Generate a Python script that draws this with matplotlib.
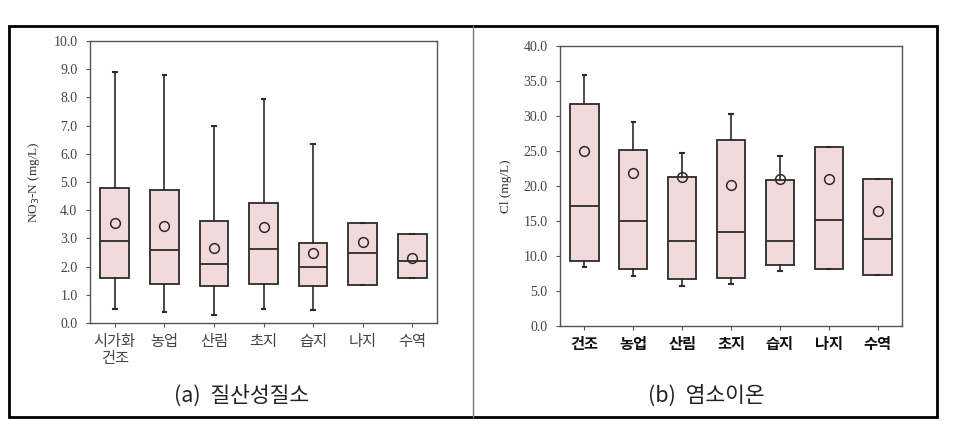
import matplotlib
matplotlib.use("Agg")
import matplotlib.pyplot as plt
from matplotlib.patches import Rectangle
from matplotlib.lines import Line2D

# ---- data ----
labels_a = ["시가화\n건조", "농업", "산림", "초지", "습지", "나지", "수역"]
q1_a = [1.6, 1.4, 1.3, 1.4, 1.3, 1.35, 1.6]
med_a = [2.9, 2.6, 2.1, 2.62, 2.0, 2.48, 2.2]
q3_a = [4.8, 4.7, 3.6, 4.27, 2.85, 3.55, 3.15]
lo_a = [0.5, 0.4, 0.3, 0.5, 0.45, 1.35, 1.6]
hi_a = [8.9, 8.8, 7.0, 7.95, 6.35, 3.55, 3.15]
mean_a = [3.55, 3.45, 2.65, 3.42, 2.48, 2.88, 2.3]

labels_b = ["건조", "농업", "산림", "초지", "습지", "나지", "수역"]
q1_b = [9.3, 8.1, 6.7, 6.9, 8.7, 8.2, 7.3]
med_b = [17.2, 15.0, 12.2, 13.5, 12.1, 15.1, 12.5]
q3_b = [31.7, 25.1, 21.3, 26.6, 20.8, 25.6, 21.0]
lo_b = [8.4, 7.1, 5.7, 6.0, 7.8, 8.2, 7.3]
hi_b = [35.9, 29.1, 24.7, 30.3, 24.3, 25.6, 21.0]
mean_b = [25.0, 21.9, 21.3, 20.1, 21.0, 21.0, 16.4]

KR = ["Noto Sans CJK KR", "DejaVu Sans"]
SERIF = ["Liberation Serif", "DejaVu Serif"]
FILL = "#f2dada"
EDGE = "#2b2b2b"


def build_stats(q1, med, q3, lo, hi, mean):
    return [
        {"q1": a, "med": b, "q3": c, "whislo": d, "whishi": e, "mean": f, "fliers": []}
        for a, b, c, d, e, f in zip(q1, med, q3, lo, hi, mean)
    ]


def draw_panel(ax, stats, labels, ymax, ystep, ylabel, bold):
    n = len(stats)
    ax.bxp(
        stats,
        positions=range(n),
        widths=0.58,
        capwidths=0.07,
        patch_artist=True,
        showmeans=True,
        boxprops=dict(facecolor=FILL, edgecolor=EDGE, linewidth=1.3),
        medianprops=dict(color=EDGE, linewidth=1.3),
        whiskerprops=dict(color=EDGE, linewidth=1.2),
        capprops=dict(color=EDGE, linewidth=1.5),
        meanprops=dict(marker="o", markerfacecolor="none", markeredgecolor=EDGE,
                       markersize=7, markeredgewidth=1.1),
    )
    ax.set_xlim(-0.5, n - 0.5)
    ax.set_ylim(0, ymax)
    ticks = [i * ystep for i in range(int(round(ymax / ystep)) + 1)]
    ax.set_yticks(ticks)
    ax.set_yticklabels([f"{t:.1f}" for t in ticks], fontfamily=SERIF, fontsize=10, color="#444444")
    ax.set_xticks(range(n))
    ax.set_xticklabels(labels, fontfamily=KR, fontsize=11,
                       fontweight="bold" if bold else "normal",
                       color="#111111" if bold else "#444444", linespacing=1.0)
    ax.tick_params(axis="both", direction="out", length=3, color="#555555", width=0.8)
    ax.tick_params(axis="y", pad=6)
    ax.tick_params(axis="x", pad=4)
    for s in ax.spines.values():
        s.set_color("#555555")
        s.set_linewidth(1.0)
    ax.set_ylabel(ylabel, fontfamily=SERIF, fontsize=9.5, color="#333333", labelpad=8)


W, H = 954, 430
fig = plt.figure(figsize=(W / 100, H / 100), dpi=100)

ax_a = fig.add_axes([90 / W, 1 - 323 / H, 347 / W, 282 / H])
ax_b = fig.add_axes([560 / W, 1 - 326 / H, 342 / W, 280 / H])

draw_panel(ax_a, build_stats(q1_a, med_a, q3_a, lo_a, hi_a, mean_a), labels_a,
           10.0, 1.0, "NO$_3$-N (mg/L)", bold=False)
draw_panel(ax_b, build_stats(q1_b, med_b, q3_b, lo_b, hi_b, mean_b), labels_b,
           40.0, 5.0, "Cl (mg/L)", bold=True)

# panel captions
fig.text(242 / W, 1 - 396 / H, "(a)  질산성질소", ha="center", va="center",
         fontfamily=KR, fontsize=15.5, color="#222222")
fig.text(706 / W, 1 - 396 / H, "(b)  염소이온", ha="center", va="center",
         fontfamily=KR, fontsize=15.5, color="#222222")

# outer frame and divider
fig.patches.append(Rectangle((9 / W, 1 - 417 / H), 928 / W, 391 / H, transform=fig.transFigure,
                             fill=False, edgecolor="black", linewidth=2.0))
fig.lines.append(Line2D([473 / W, 473 / W], [1 - 417 / H, 1 - 26 / H], transform=fig.transFigure,
                        color="#777777", linewidth=1.0))

fig.savefig("out.png", dpi=100)
